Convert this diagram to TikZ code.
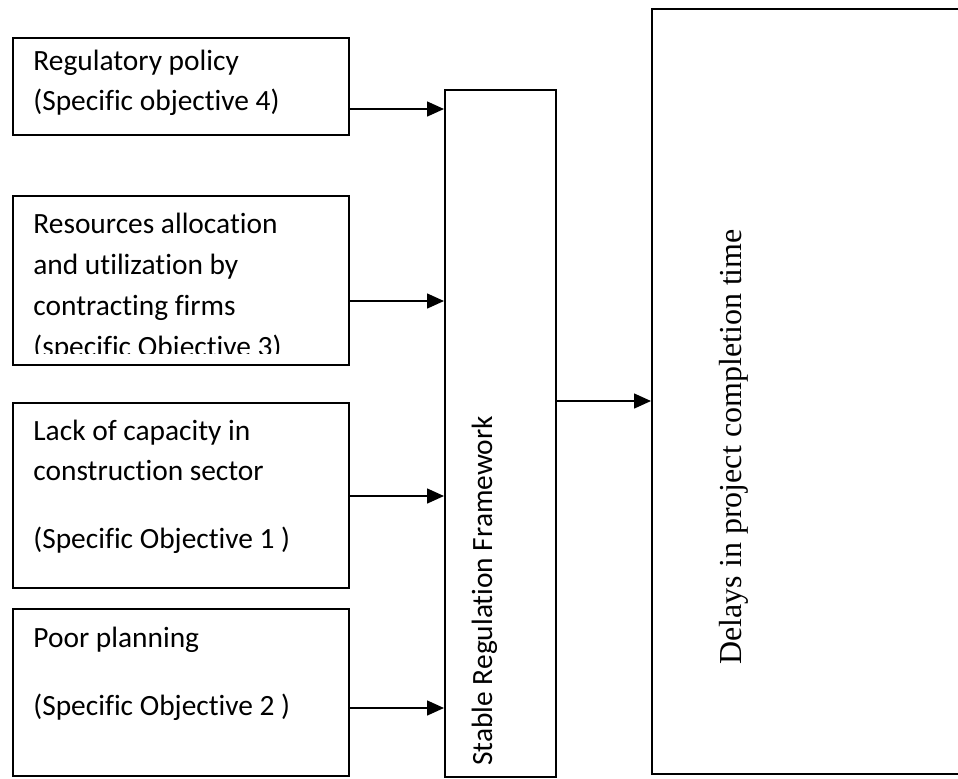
\documentclass[tikz,border=0pt]{standalone}
\usepackage{fontspec}
\setmainfont{Carlito}[Ligatures=NoCommon]
\newfontfamily\timesf{Liberation Serif}
\usetikzlibrary{arrows.meta}
\tikzset{
  box/.style={draw, line width=0.75pt, rectangle, inner sep=0pt, anchor=north west},
  txt/.style={anchor=base west, inner sep=0pt, font=\fontsize{14.7}{17}\selectfont},
  arr/.style={line width=0.75pt, -{Triangle[length=8.5pt,width=7.5pt]}}
}
\begin{document}
\begin{tikzpicture}[x=0.5pt,y=-0.5pt]
\useasboundingbox (0,0) rectangle (958,778);
\clip (0,0) rectangle (958,778);
% boxes
\node[box, minimum width=168pt, minimum height=48.5pt] (b1) at (12,37) {};
\node[box, minimum width=168pt, minimum height=84.5pt] (b2) at (12,195) {};
\node[box, minimum width=168pt, minimum height=92.5pt] (b3) at (12,402) {};
\node[box, minimum width=168pt, minimum height=83.5pt] (b4) at (12,608) {};
\node[box, minimum width=55.5pt, minimum height=343.5pt] (mid) at (444,89) {};
\node[box, minimum width=200pt, minimum height=382.5pt] (res) at (651,8) {};
% texts
\node[txt] (t1a) at (33,70) {Regulatory policy};
\node[txt] (t1b) at (33,110) {(Specific objective 4)};
\begin{scope}
\clip (12,195) rectangle (348,353);
\node[txt] (t2a) at (33,233) {Resources allocation};
\node[txt] (t2b) at (33,274) {and utilization by};
\node[txt] (t2c) at (33,315) {contracting firms};
\node[txt] (t2d) at (33,356) {(specific Objective 3)};
\end{scope}
\node[txt] (t3a) at (33,440) {Lack of capacity in};
\node[txt] (t3b) at (33,480) {construction sector};
\node[txt] (t3c) at (33,548) {(Specific Objective 1 )};
\node[txt] (t4a) at (33,647) {Poor planning};
\node[txt] (t4b) at (33,715) {(Specific Objective 2 )};
\node[txt, rotate=90] (tm) at (492,766) {Stable Regulation Framework};
\node[anchor=base west, inner sep=0pt, rotate=90, font=\timesf\fontsize{16}{19}\selectfont] (tr) at (741,665) {Delays in project completion time};
% arrow levels
\coordinate (a1) at (0,109);
\coordinate (a2) at (0,301);
\coordinate (a3) at (0,496);
\coordinate (a4) at (0,708);
\coordinate (a5) at (0,401);
\draw[arr] (b1.east |- a1) -- (mid.west |- a1);
\draw[arr] (b2.east |- a2) -- (mid.west |- a2);
\draw[arr] (b3.east |- a3) -- (mid.west |- a3);
\draw[arr] (b4.east |- a4) -- (mid.west |- a4);
\draw[arr] (mid.east |- a5) -- (res.west |- a5);
\end{tikzpicture}
\end{document}
